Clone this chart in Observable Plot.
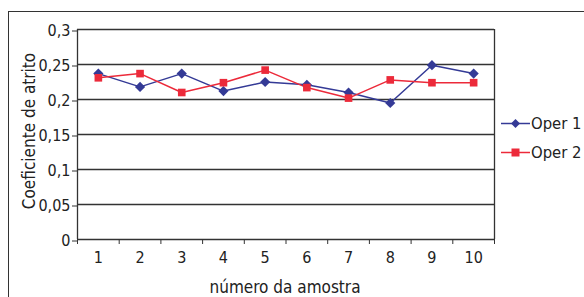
<!DOCTYPE html>
<html>
<head>
<meta charset="utf-8">
<script src="https://cdn.jsdelivr.net/npm/d3@7"></script>
<script src="https://cdn.jsdelivr.net/npm/@observablehq/plot@0.6"></script>
<style>
  html, body { margin: 0; padding: 0; background: #fff; }
  #wrap { position: relative; width: 584px; height: 297px; overflow: hidden; }
  #border { position: absolute; left: 8px; top: 11px; width: 600px; height: 300px; border-left: 1.3px solid #333; border-top: 1.3px solid #333; box-sizing: border-box; }
  #chart { position: absolute; left: 0; top: 0; }
  #legend { position: absolute; left: 501px; top: 109px; font-family: "DejaVu Sans Condensed", "DejaVu Sans", sans-serif; font-stretch: condensed; font-size: 16.5px; color: #222; white-space: nowrap; }
  .item { display: flex; align-items: center; height: 28.7px; }
  .item svg { margin-right: 1px; }
</style>
</head>
<body>
<div id="wrap">
  <div id="border"></div>
  <div id="chart"></div>
  <div id="legend"></div>
</div>
<script>
const samples = [1, 2, 3, 4, 5, 6, 7, 8, 9, 10];
const oper1 = [0.237, 0.218, 0.237, 0.212, 0.225, 0.221, 0.210, 0.195, 0.249, 0.237];
const oper2 = [0.231, 0.237, 0.210, 0.224, 0.242, 0.217, 0.202, 0.228, 0.224, 0.224];
const seriesNames = ["Oper 1", "Oper 2"];
const seriesColors = ["#343a96", "#ec2a3a"];
const yTicks = [0, 0.05, 0.1, 0.15, 0.2, 0.25, 0.3];
const xBounds = [0.5, 1.5, 2.5, 3.5, 4.5, 5.5, 6.5, 7.5, 8.5, 9.5, 10.5];

const data = [];
samples.forEach((s, i) => {
  data.push({sample: s, value: oper1[i], series: seriesNames[0]});
  data.push({sample: s, value: oper2[i], series: seriesNames[1]});
});
const d1 = data.filter(d => d.series === seriesNames[0]);
const d2 = data.filter(d => d.series === seriesNames[1]);
const fmt = v => String(v).replace(".", ",");

const chart = Plot.plot({
  width: 584,
  height: 297,
  marginLeft: 77,
  marginRight: 90,
  marginTop: 29,
  marginBottom: 58,
  style: {fontFamily: "'DejaVu Sans Condensed', 'DejaVu Sans', sans-serif", fontStretch: "condensed", fontSize: "16px", color: "#222", background: "transparent"},
  x: {type: "linear", domain: [0.5, 10.5]},
  y: {domain: [0, 0.3]},
  marks: [
    Plot.gridY(yTicks, {stroke: "#333", strokeOpacity: 1, strokeWidth: 1.3}),
    Plot.ruleX([10.5], {stroke: "#333", strokeWidth: 1.3}),
    Plot.ruleX([0.5], {stroke: "#333", strokeWidth: 1.3}),
    Plot.axisY({ticks: yTicks, tickFormat: fmt, tickSize: 5, tickPadding: 2, dy: 1.5, fontSize: 16, stroke: "#333", label: null}),
    Plot.axisX({ticks: xBounds, tickFormat: () => "", tickSize: 5, stroke: "#333", label: null}),
    Plot.axisX({ticks: samples, tickFormat: d => d, tickSize: 0, tickPadding: 12.5, fontSize: 16, label: null}),
    Plot.text(["Coeficiente de atrito"], {frameAnchor: "left", textAnchor: "middle", dx: -48, dy: -3.5, rotate: -90, fontSize: 17, fill: "#222"}),
    Plot.text(["número da amostra"], {frameAnchor: "bottom", textAnchor: "middle", dx: -1, dy: 53, fontSize: 17, fill: "#222"}),
    Plot.line(d1, {x: "sample", y: "value", stroke: seriesColors[0], strokeWidth: 1.5}),
    Plot.line(d2, {x: "sample", y: "value", stroke: seriesColors[1], strokeWidth: 1.5}),
    Plot.dot(d1, {x: "sample", y: "value", symbol: "diamond2", r: 4.6, fill: seriesColors[0], stroke: "none"}),
    Plot.dot(d2, {x: "sample", y: "value", symbol: "square", r: 4.3, fill: seriesColors[1], stroke: "none"})
  ]
});
document.getElementById("chart").appendChild(chart);

const legend = document.getElementById("legend");
seriesNames.forEach((name, i) => {
  const item = document.createElement("div");
  item.className = "item";
  const marker = i === 0
    ? `<polygon points="14.5,1 19,5.5 14.5,10 10,5.5" fill="${seriesColors[i]}"/>`
    : `<rect x="10.5" y="1.5" width="8" height="8" fill="${seriesColors[i]}"/>`;
  item.innerHTML = `<svg width="29" height="11"><line x1="0" x2="29" y1="5.5" y2="5.5" stroke="${seriesColors[i]}" stroke-width="1.5"/>${marker}</svg><span>${name}</span>`;
  legend.appendChild(item);
});
</script>
</body>
</html>
